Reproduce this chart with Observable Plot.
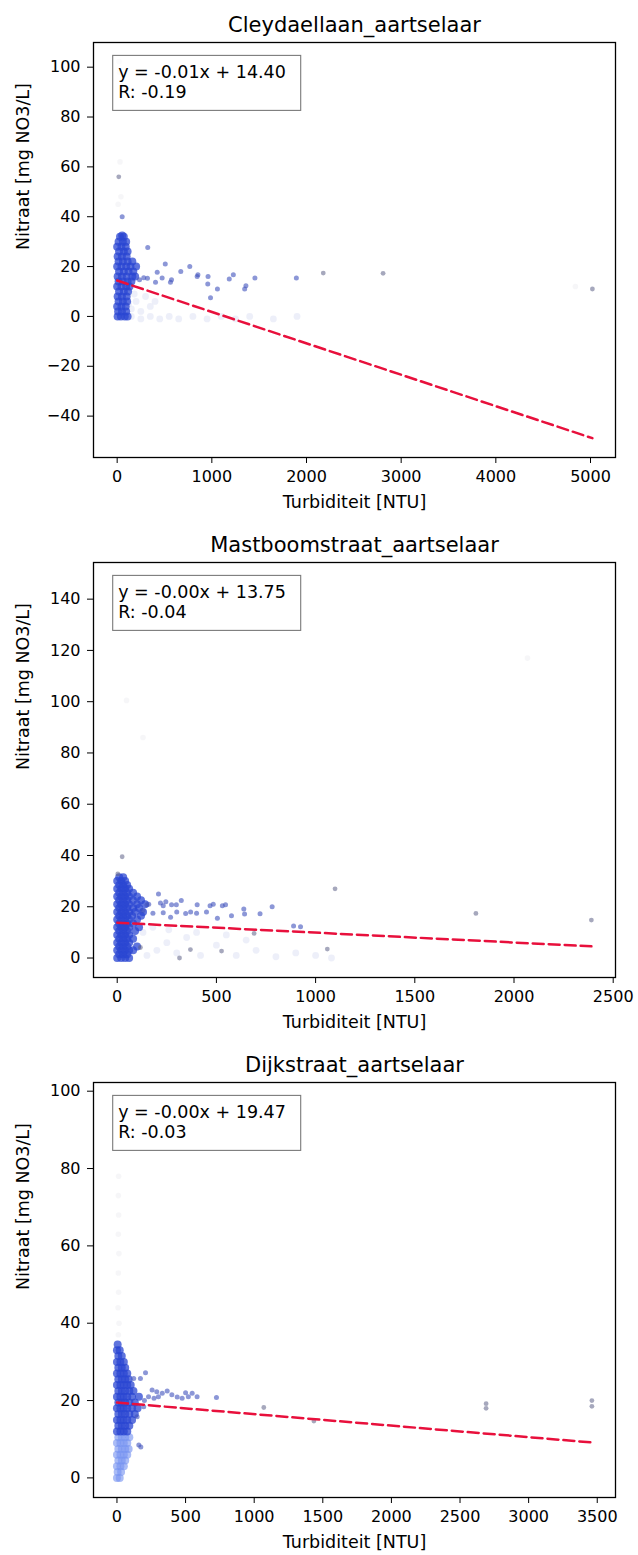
<!DOCTYPE html>
<html>
<head>
<meta charset="utf-8">
<script src="https://cdn.jsdelivr.net/npm/d3@7"></script>
<script src="https://cdn.jsdelivr.net/npm/@observablehq/plot@0.6"></script>
<style>
  body { margin: 0; background: #fff; width: 638px; }
  #charts svg { display: block; }
</style>
</head>
<body>
<div id="charts"></div>
<script>
// ---- Site names, axis titles and tick values ----
const siteNames = ["Cleydaellaan_aartselaar", "Mastboomstraat_aartselaar", "Dijkstraat_aartselaar"];
const xLabel = "Turbiditeit [NTU]";
const yLabel = "Nitraat [mg NO3/L]";
const xTicksCley = [0, 1000, 2000, 3000, 4000, 5000];
const yTicksCley = [-40, -20, 0, 20, 40, 60, 80, 100];
const xTicksMast = [0, 500, 1000, 1500, 2000, 2500];
const yTicksMast = [0, 20, 40, 60, 80, 100, 120, 140];
const xTicksDijk = [0, 500, 1000, 1500, 2000, 2500, 3000, 3500];
const yTicksDijk = [0, 20, 40, 60, 80, 100];

// ---- Linear fit per site (slope, intercept, Pearson R) ----
const fitSlopes = [-0.0126, -0.00385, -0.00298];
const fitIntercepts = [14.40, 13.75, 19.47];
const fitR = [-0.19, -0.04, -0.03];

// ---- Cleydaellaan: [turbidity NTU, nitrate mg/L] ----
const cleyCore = [
  [5,0],[40,0],[80,0],[110,0],[10,2],[50,2],[95,2],[0,4],[45,4],[90,4],
  [15,6],[60,6],[105,6],[5,8],[50,8],[100,8],[20,10],[70,10],[115,10],
  [0,12],[45,12],[95,12],[130,12],[15,14],[60,14],[110,14],[150,14],
  [5,16],[50,16],[100,16],[160,16],[190,16],[20,18],[70,18],[120,18],[170,18],
  [0,20],[45,20],[95,20],[140,20],[200,20],[15,22],[60,22],[110,22],[160,22],
  [5,24],[50,24],[100,24],[20,26],[70,26],[110,26],[0,28],[45,28],[90,28],
  [15,30],[60,30],[95,30],[30,32],[70,32],[53,32.5]
];
const cleySpread = [
  [53,40],[323,27.7],[508,21],[423,17.7],[672,18],[767,20],[853,16.7],[845,16],
  [960,16],[957,13],[1059,11],[986,7.5],[1184,15],[1227,16.7],[1347,11],[1360,12.3],
  [1455,15.4],[1893,15.4],[320,15.3],[236,14.7],[574,14.7],[563,13.7],[405,13.7],
  [281,15.5],[475,15.4]
];
const cleyOutlier = [[2177,17.4],[2809,17.3],[5020,11],[17,56]];
const cleyPale = [
  [150,3],[200,6],[250,2],[300,8],[350,4],[400,6],[180,9],[120,5],
  [150,0],[250,-1],[350,0],[450,-1],[550,0],[650,-1],[800,0],[950,-1],
  [1100,0],[1250,-1],[1400,0],[1650,-1],[1900,0]
];
const cleyFaint = [[4840,12],[20,102.3],[25,98],[30,62],[40,48],[10,45]];

// ---- Mastboomstraat ----
const mastCore = [
  [0,0],[20,0],[40,0],[60,0],[10,1.5],[30,1.5],[50,1.5],[0,3],[20,3],[40,3],[60,3],[80,3],
  [10,4.5],[30,4.5],[50,4.5],[100,4.5],[0,6],[20,6],[40,6],[60,6],[10,7.5],[30,7.5],[50,7.5],[80,7.5],
  [0,9],[20,9],[40,9],[60,9],[10,10.5],[30,10.5],[50,10.5],[90,10.5],
  [0,12],[20,12],[40,12],[60,12],[110,12],[10,13.5],[30,13.5],[50,13.5],[80,13.5],
  [0,15],[20,15],[40,15],[60,15],[100,15],[10,16.5],[30,16.5],[50,16.5],[75,16.5],[120,16.5],
  [0,18],[20,18],[40,18],[60,18],[90,18],[130,18],[10,19.5],[30,19.5],[50,19.5],[80,19.5],[110,19.5],
  [0,21],[20,21],[40,21],[60,21],[100,21],[140,21],[10,22.5],[30,22.5],[50,22.5],[80,22.5],[120,22.5],
  [0,24],[20,24],[40,24],[60,24],[100,24],[10,25.5],[30,25.5],[50,25.5],[80,25.5],
  [0,27],[20,27],[40,27],[60,27],[10,28.5],[30,28.5],[50,28.5],[0,30],[20,30],[40,30],[10,31.5],[30,31.5]
];
const mastSpread = [
  [150,20.8],[130,18.5],[159,21],[208,25],[218,21.5],[232,20.4],[232,17.7],[245,22],
  [269,15.9],[274,20.8],[298,20.8],[323,22.4],[345,17.4],[370,18],[403,20.8],[468,20.4],
  [484,21],[505,15.5],[530,20.4],[546,20.8],[576,16.5],[638,19.1],[642,17.2],[720,17.3],
  [781,20],[889,12.5],[924,12.2],[180,17.5],[300,18],[400,17.5],[450,18]
];
const mastOutlier = [
  [1098,27],[1808,17.4],[2390,14.8],[1059,3.5],[314,0],[369,3.3],[526,2.7],[690,9.6],
  [117,4.1],[25,39.5],[3,32.8]
];
const mastPale = [
  [150,1],[200,3],[250,6],[300,2],[350,8],[420,1],[500,5],[600,1],[700,3],[800,0.5],
  [900,2],[1000,1],[1080,0],[130,10],[180,12],[260,11],[400,10],[550,9],[650,7]
];
const mastFaint = [[47,100.5],[130,86],[2068,117]];

// ---- Dijkstraat ----
const dijkCore = [
  [0,12],[25,12],[50,12],[75,12],[10,13.5],[35,13.5],[60,13.5],[90,13.5],
  [0,15],[25,15],[50,15],[75,15],[110,15],[10,16.5],[35,16.5],[60,16.5],[90,16.5],[130,16.5],
  [0,18],[25,18],[50,18],[75,18],[110,18],[150,18],[10,19.5],[35,19.5],[60,19.5],[90,19.5],[130,19.5],
  [0,21],[25,21],[50,21],[75,21],[110,21],[160,21],[10,22.5],[35,22.5],[60,22.5],[90,22.5],[120,22.5],
  [0,24],[25,24],[50,24],[75,24],[100,24],[10,25.5],[35,25.5],[60,25.5],[85,25.5],
  [0,27],[25,27],[50,27],[75,27],[10,28.5],[35,28.5],[60,28.5],[0,30],[25,30],[50,30],
  [10,31.5],[35,31.5],[0,33],[20,33],[5,34.5]
];
const dijkLight = [
  [0,0],[20,0],[5,1.5],[30,1.5],[0,3],[25,3],[50,3],[10,4.5],[35,4.5],[60,4.5],
  [0,6],[25,6],[50,6],[75,6],[10,7.5],[35,7.5],[60,7.5],[85,7.5],[0,9],[25,9],[50,9],[75,9],
  [10,10.5],[35,10.5],[60,10.5],[90,10.5]
];
const dijkSpread = [
  [208,27.2],[122,25.7],[171,25.7],[256,22.7],[290,22.3],[330,21.9],[366,22.5],[230,21],
  [270,20.6],[302,21],[439,20.9],[475,20.6],[548,21.9],[584,21],[725,20.8],[195,18.4],
  [147,15.8],[159,8.5],[174,8],[200,20],[400,21.5],[520,21],[500,22]
];
const dijkOutlier = [[1070,18.2],[2690,19.2],[2690,18],[3461,20],[3461,18.5],[1435,14.7]];
const dijkFaint = [[10,37],[15,40],[8,44],[12,48],[10,53],[14,58],[10,63],[12,68],[10,73],[12,78]];

// ---- Rendering ----
const layerStyles = {
  faint:   {fill: "#c4c6d2", fillOpacity: 0.16, r: 2.8},
  pale:    {fill: "#d6dcf2", fillOpacity: 0.45, r: 3.4},
  light:   {fill: "#7693f0", fillOpacity: 0.62, r: 4},
  core:    {fill: "#2a46d2", fillOpacity: 0.75, r: 4},
  spread:  {fill: "#3f52bd", fillOpacity: 0.6, r: 2.5},
  outlier: {fill: "#5d6186", fillOpacity: 0.55, r: 2.4}
};
const layerOrder = ["faint", "pale", "light", "core", "spread", "outlier"];

const sites = [
  {name: siteNames[0], layers: {faint: cleyFaint, pale: cleyPale, core: cleyCore, spread: cleySpread, outlier: cleyOutlier},
   xTicks: xTicksCley, yTicks: yTicksCley, xDomain: [-250, 5264], yDomain: [-56.6, 109.9], height: 520, marginBottom: 63},
  {name: siteNames[1], layers: {faint: mastFaint, pale: mastPale, core: mastCore, spread: mastSpread, outlier: mastOutlier},
   xTicks: xTicksMast, yTicks: yTicksMast, xDomain: [-119.5, 2511.6], yDomain: [-7.6, 154.3], height: 520, marginBottom: 63},
  {name: siteNames[2], layers: {faint: dijkFaint, light: dijkLight, core: dijkCore, spread: dijkSpread, outlier: dijkOutlier},
   xTicks: xTicksDijk, yTicks: yTicksDijk, xDomain: [-171, 3633], yDomain: [-5.07, 102.25], height: 515, marginBottom: 58}
];

const minusFormat = d => (d < 0 ? "\u2212" + Math.abs(d) : String(d));

// Fit equation and correlation shown in a half-transparent box in the top-left corner
function statsBox(lines) {
  return (index, scales, values, dimensions) => {
    const g = d3.create("svg:g");
    const x0 = dimensions.marginLeft + 19.7;
    const y0 = dimensions.marginTop + 13.4;
    g.append("rect")
      .attr("x", x0).attr("y", y0).attr("width", 188).attr("height", 55)
      .attr("fill", "white").attr("fill-opacity", 0.5)
      .attr("stroke", "#7a7a7a").attr("stroke-width", 1.1);
    lines.forEach((t, i) => {
      g.append("text")
        .attr("x", x0 + 5.5).attr("y", y0 + 22.6 + i * 20)
        .attr("text-anchor", "start")
        .attr("font-size", 17.5).attr("fill", "black")
        .text(t);
    });
    return g.node();
  };
}

const container = document.getElementById("charts");

sites.forEach((site, i) => {
  const slope = fitSlopes[i], intercept = fitIntercepts[i];
  const allPoints = Object.values(site.layers).flat();
  const xEnd = d3.max(allPoints, d => d[0]);
  const fitLine = [0, xEnd].map(x => ({x, y: intercept + slope * x}));

  const dotMarks = layerOrder
    .filter(k => site.layers[k])
    .map(k => Plot.dot(site.layers[k], {x: d => d[0], y: d => d[1], stroke: "none", ...layerStyles[k]}));

  const chart = Plot.plot({
    width: 638,
    height: site.height,
    marginLeft: 93,
    marginRight: 23,
    marginTop: 42,
    marginBottom: site.marginBottom,
    style: {fontFamily: "'DejaVu Sans', sans-serif", fontSize: "16px", background: "white", color: "black", overflow: "visible"},
    x: {domain: site.xDomain},
    y: {domain: site.yDomain},
    marks: [
      ...dotMarks,
      Plot.line(fitLine, {x: "x", y: "y", stroke: "#e8103c", strokeWidth: 2.5, strokeDasharray: "11,5"}),
      Plot.frame({stroke: "black", strokeWidth: 1.3}),
      Plot.axisX({ticks: site.xTicks, tickFormat: minusFormat, tickSize: 6, tickPadding: 7, label: null, fontSize: 16}),
      Plot.axisY({ticks: site.yTicks, tickFormat: minusFormat, tickSize: 6, tickPadding: 7, label: null, fontSize: 16}),
      Plot.text([site.name], {text: d => d, frameAnchor: "top", dy: -17.7, fontSize: 21, lineAnchor: "middle"}),
      Plot.text([xLabel], {text: d => d, frameAnchor: "bottom", dy: 44.7, fontSize: 17.5, lineAnchor: "middle"}),
      Plot.text([yLabel], {text: d => d, frameAnchor: "left", dx: -70.6, rotate: -90, fontSize: 17.5, lineAnchor: "middle"}),
      statsBox([`y = ${slope.toFixed(2)}x + ${intercept.toFixed(2)}`, `R: ${fitR[i].toFixed(2)}`])
    ]
  });
  container.appendChild(chart);
});
</script>
</body>
</html>
